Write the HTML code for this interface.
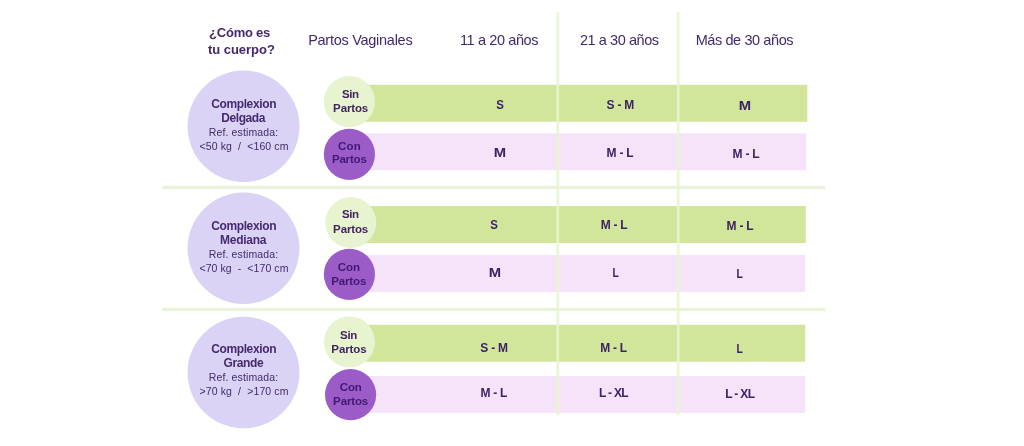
<!DOCTYPE html>
<html lang="es">
<head>
<meta charset="utf-8">
<title>Tabla de tallas</title>
<style>
html,body{margin:0;padding:0;background:#fff;}
body{width:1024px;height:446px;position:relative;overflow:hidden;font-family:"Liberation Sans",sans-serif;}
svg{position:absolute;left:0;top:0;display:block;}
.t{position:absolute;white-space:pre;line-height:1;filter:blur(.3px);}
.b{font-weight:bold;}
.c1{color:#45286d;}
.c2{color:#41296a;}
.c3{color:#47296f;}
.c4{color:#422a6b;}
.c5{color:#40255f;}
.c6{color:#421873;}
.c7{color:#3c2362;}
</style>
</head>
<body>
<svg width="1024" height="446" viewBox="0 0 1024 446">
  <!-- horizontal separators -->
  <g fill="#e4f0d3">
    <rect x="162" y="185.7" width="663.2" height="3.6" fill-opacity=".38"/>
    <rect x="162.6" y="186.4" width="662.2" height="2.2"/>
    <rect x="162" y="307.7" width="663.2" height="3.6" fill-opacity=".38"/>
    <rect x="162.6" y="308.4" width="662.2" height="2.2"/>
  </g>
  <!-- bars -->
  <g fill="#d1e59b">
    <rect x="349" y="84.8" width="458.3" height="36.9"/>
    <rect x="349" y="206" width="456.7" height="37"/>
    <rect x="349" y="324.8" width="456.2" height="36.9"/>
  </g>
  <g fill="#f5e3fa">
    <rect x="349" y="133.3" width="457.2" height="36.9"/>
    <rect x="349" y="255" width="456.2" height="37"/>
    <rect x="349" y="375.9" width="456.2" height="37.1"/>
  </g>
  <!-- vertical separators -->
  <g fill="#e8f6cf">
    <rect x="555.95" y="12" width="3.6" height="403.6" fill-opacity=".35"/>
    <rect x="556.65" y="12.5" width="2.2" height="402.7" fill-opacity=".85"/>
    <rect x="676.4" y="12" width="3.6" height="403.6" fill-opacity=".35"/>
    <rect x="677.1" y="12.5" width="2.2" height="402.7" fill-opacity=".85"/>
  </g>
  <!-- big circles -->
  <g fill="#dad3f6">
    <ellipse cx="243.5" cy="126.3" rx="56" ry="55.75"/>
    <ellipse cx="243.5" cy="248.3" rx="56" ry="55.75"/>
    <ellipse cx="243.5" cy="372.55" rx="56" ry="55.75"/>
  </g>
  <!-- small circles -->
  <g fill="#e8f3cf">
    <circle cx="349.4" cy="101.65" r="25.6"/>
    <circle cx="350.8" cy="222.5" r="25.5"/>
    <circle cx="349.5" cy="341.95" r="25.55"/>
  </g>
  <g fill="#9b5cc8">
    <circle cx="349.4" cy="154.4" r="25.6"/>
    <circle cx="349.4" cy="274.4" r="25.6"/>
    <circle cx="350.6" cy="394.7" r="25.6"/>
  </g>
</svg>

<!-- text -->
<div class="t c1 b" style="left:209.12px;top:26px;font-size:13px;letter-spacing:-0.24px;">¿Cómo es</div>
<div class="t c1 b" style="left:207.9px;top:43px;font-size:13px;letter-spacing:-0.02px;">tu cuerpo?</div>
<div class="t c2" style="left:308.17px;top:33px;font-size:14.5px;letter-spacing:-0.27px;">Partos Vaginales</div>
<div class="t c2" style="left:460.0px;top:33px;font-size:14.5px;letter-spacing:-0.39px;">11 a 20 años</div>
<div class="t c2" style="left:579.9px;top:33px;font-size:14.5px;letter-spacing:-0.42px;">21 a 30 años</div>
<div class="t c2" style="left:695.7px;top:33px;font-size:14.5px;letter-spacing:-0.41px;">Más de 30 años</div>
<div class="t c3 b" style="left:211.15px;top:98px;font-size:12px;letter-spacing:-0.37px;">Complexion</div>
<div class="t c3 b" style="left:221.32px;top:112px;font-size:12px;letter-spacing:-0.44px;">Delgada</div>
<div class="t c4" style="left:208.78px;top:127px;font-size:10.5px;letter-spacing:0.13px;">Ref. estimada:</div>
<div class="t c4" style="left:199.48px;top:141px;font-size:10.5px;letter-spacing:0.12px;">&lt;50 kg &nbsp;/ &nbsp;&lt;160 cm</div>
<div class="t c3 b" style="left:211.15px;top:220px;font-size:12px;letter-spacing:-0.37px;">Complexion</div>
<div class="t c3 b" style="left:220.08px;top:234px;font-size:12px;letter-spacing:-0.26px;">Mediana</div>
<div class="t c4" style="left:208.78px;top:249px;font-size:10.5px;letter-spacing:0.13px;">Ref. estimada:</div>
<div class="t c4" style="left:199.48px;top:263px;font-size:10.5px;letter-spacing:0.08px;">&lt;70 kg &nbsp;- &nbsp;&lt;170 cm</div>
<div class="t c3 b" style="left:211.15px;top:343px;font-size:12px;letter-spacing:-0.37px;">Complexion</div>
<div class="t c3 b" style="left:223.42px;top:357px;font-size:12px;letter-spacing:-0.36px;">Grande</div>
<div class="t c4" style="left:208.78px;top:372px;font-size:10.5px;letter-spacing:0.13px;">Ref. estimada:</div>
<div class="t c4" style="left:199.48px;top:386px;font-size:10.5px;letter-spacing:0.12px;">&gt;70 kg &nbsp;/ &nbsp;&gt;170 cm</div>
<div class="t c5 b" style="left:341.9px;top:89px;font-size:11.5px;letter-spacing:-0.38px;">Sin</div>
<div class="t c5 b" style="left:333.1px;top:103px;font-size:11.5px;letter-spacing:-0.13px;">Partos</div>
<div class="t c6 b" style="left:338.05px;top:141px;font-size:11.5px;letter-spacing:0.17px;">Con</div>
<div class="t c6 b" style="left:331.95px;top:154px;font-size:11.5px;letter-spacing:-0.19px;">Partos</div>
<div class="t c5 b" style="left:341.9px;top:209px;font-size:11.5px;letter-spacing:-0.38px;">Sin</div>
<div class="t c5 b" style="left:333.1px;top:224px;font-size:11.5px;letter-spacing:-0.13px;">Partos</div>
<div class="t c6 b" style="left:337.75px;top:262px;font-size:11.5px;letter-spacing:-0.08px;">Con</div>
<div class="t c6 b" style="left:331.2px;top:276px;font-size:11.5px;letter-spacing:-0.13px;">Partos</div>
<div class="t c5 b" style="left:339.98px;top:330px;font-size:11.5px;letter-spacing:-0.23px;">Sin</div>
<div class="t c5 b" style="left:331.35px;top:344px;font-size:11.5px;letter-spacing:-0.09px;">Partos</div>
<div class="t c6 b" style="left:339.65px;top:382px;font-size:11.5px;letter-spacing:-0.07px;">Con</div>
<div class="t c6 b" style="left:333.1px;top:396px;font-size:11.5px;letter-spacing:-0.13px;">Partos</div>
<div class="t c7 b" style="left:496.1px;top:99px;font-size:12px;transform:scaleX(0.957);">S</div>
<div class="t c7 b" style="left:606.55px;top:99px;font-size:12px;letter-spacing:-0.22px;">S - M</div>
<div class="t c7 b" style="left:739.9px;top:100px;font-size:12px;transform:scaleX(1.235);">M</div>
<div class="t c7 b" style="left:495.2px;top:147px;font-size:12px;transform:scaleX(1.235);">M</div>
<div class="t c7 b" style="left:606.55px;top:147px;font-size:12px;letter-spacing:-0.25px;">M - L</div>
<div class="t c7 b" style="left:732.55px;top:148px;font-size:12px;letter-spacing:-0.25px;">M - L</div>
<div class="t c7 b" style="left:490.3px;top:219px;font-size:12px;transform:scaleX(0.957);">S</div>
<div class="t c7 b" style="left:600.65px;top:219px;font-size:12px;letter-spacing:-0.25px;">M - L</div>
<div class="t c7 b" style="left:726.55px;top:220px;font-size:12px;letter-spacing:-0.25px;">M - L</div>
<div class="t c7 b" style="left:489.5px;top:267px;font-size:12px;transform:scaleX(1.235);">M</div>
<div class="t c7 b" style="left:612.02px;top:267px;font-size:12px;transform:scaleX(0.864);">L</div>
<div class="t c7 b" style="left:736.42px;top:268px;font-size:12px;transform:scaleX(0.864);">L</div>
<div class="t c7 b" style="left:480.35px;top:342px;font-size:12px;letter-spacing:-0.23px;">S - M</div>
<div class="t c7 b" style="left:600.15px;top:342px;font-size:12px;letter-spacing:-0.25px;">M - L</div>
<div class="t c7 b" style="left:736.02px;top:343px;font-size:12px;transform:scaleX(0.864);">L</div>
<div class="t c7 b" style="left:480.45px;top:387px;font-size:12px;letter-spacing:-0.25px;">M - L</div>
<div class="t c7 b" style="left:598.88px;top:387px;font-size:12px;letter-spacing:-0.66px;">L - XL</div>
<div class="t c7 b" style="left:725.18px;top:388px;font-size:12px;letter-spacing:-0.66px;">L - XL</div>
</body>
</html>
